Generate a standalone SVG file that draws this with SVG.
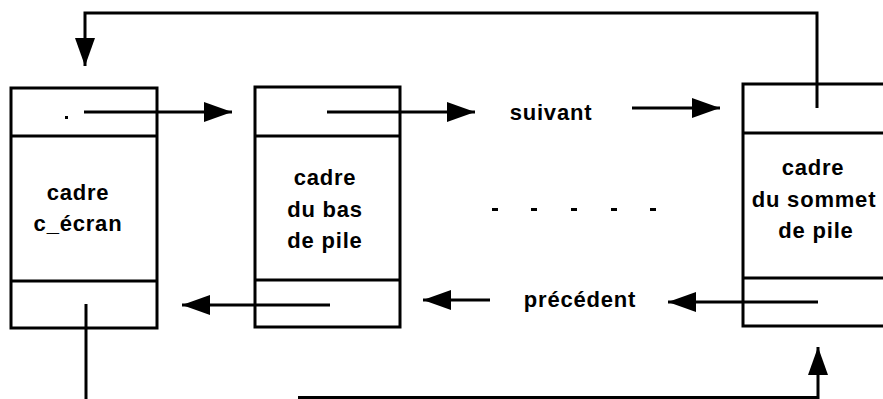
<svg xmlns="http://www.w3.org/2000/svg" width="883" height="399" viewBox="0 0 883 399">
  <defs>
    <style>
      .box { fill: none; stroke: #000; stroke-width: 3; }
      .ln { fill: none; stroke: #000; stroke-width: 3; }
      .txt { font-family: "Liberation Sans", Arial, sans-serif; font-size: 22px; font-weight: bold; letter-spacing: 0.8px; fill: #000; text-anchor: middle; }
    </style>
    <marker id="ah" viewBox="0 0 28 20" refX="28" refY="10" markerWidth="28" markerHeight="20" markerUnits="userSpaceOnUse" orient="auto">
      <path d="M0,0 L28,10 L0,20 Z" fill="#000"/>
    </marker>
  </defs>
  <rect width="883" height="399" fill="#fff"/>

  <!-- frame c_ecran -->
  <g id="cadre-ecran">
    <rect class="box" x="11" y="88" width="146" height="240"/>
    <line class="box" x1="11" y1="136" x2="157" y2="136"/>
    <line class="box" x1="11" y1="281" x2="157" y2="281"/>
    <rect x="65" y="116" width="3" height="3" fill="#000"/>
    <text class="txt" x="78" y="200">cadre</text>
    <text class="txt" x="78" y="231">c_écran</text>
  </g>

  <!-- bottom-of-stack frame -->
  <g id="cadre-bas">
    <rect class="box" x="255" y="87" width="145" height="240"/>
    <line class="box" x1="255" y1="136" x2="400" y2="136"/>
    <line class="box" x1="255" y1="280" x2="400" y2="280"/>
    <text class="txt" x="325" y="185">cadre</text>
    <text class="txt" x="325" y="217">du bas</text>
    <text class="txt" x="325" y="248">de pile</text>
  </g>

  <!-- top-of-stack frame (open on the right) -->
  <g id="cadre-sommet">
    <path class="box" d="M890,84 H743 V326 H890"/>
    <line class="box" x1="743" y1="133" x2="890" y2="133"/>
    <line class="box" x1="743" y1="278" x2="890" y2="278"/>
    <text class="txt" x="813" y="175">cadre</text>
    <text class="txt" x="814" y="207">du sommet</text>
    <text class="txt" x="816" y="238">de pile</text>
  </g>

  <!-- labels and ellipsis -->
  <g id="labels">
    <text class="txt" x="551" y="120">suivant</text>
    <text class="txt" x="580" y="307">précédent</text>
    <g fill="#000">
      <rect x="492" y="208" width="6" height="3"/>
      <rect x="531" y="208" width="6" height="3"/>
      <rect x="571" y="208" width="6" height="3"/>
      <rect x="611" y="208" width="6" height="3"/>
      <rect x="650" y="208" width="6" height="3"/>
    </g>
  </g>

  <g id="connectors">
    <!-- forward links -->
    <line class="ln" x1="84" y1="112" x2="232" y2="112" marker-end="url(#ah)"/>
    <line class="ln" x1="327" y1="112" x2="475" y2="112" marker-end="url(#ah)"/>
    <line class="ln" x1="632" y1="108" x2="720" y2="108" marker-end="url(#ah)"/>
    <!-- backward links -->
    <line class="ln" x1="818" y1="302" x2="668" y2="302" marker-end="url(#ah)"/>
    <line class="ln" x1="490" y1="300" x2="423" y2="300" marker-end="url(#ah)"/>
    <line class="ln" x1="330" y1="305" x2="182" y2="305" marker-end="url(#ah)"/>
    <!-- top of stack back to c_ecran -->
    <path class="ln" d="M817,108 V13 H85 V66" marker-end="url(#ah)"/>
    <!-- c_ecran up to top of stack -->
    <line class="ln" x1="86" y1="304" x2="86" y2="399"/>
    <path class="ln" d="M298,397.5 H818 V347" marker-end="url(#ah)"/>
  </g>
</svg>
